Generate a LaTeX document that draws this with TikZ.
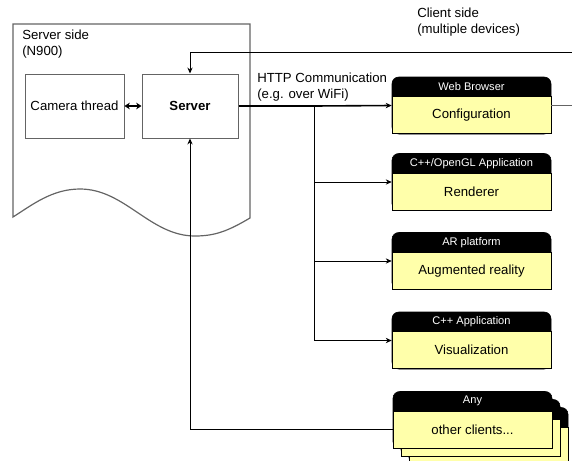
\documentclass[tikz,border=0pt]{standalone}
\usepackage{fontspec}
\setmainfont{Liberation Sans}
\usepackage{tikz}
\usetikzlibrary{arrows.meta,positioning}

\definecolor{clientyellow}{RGB}{255,255,170}
\definecolor{framegray}{RGB}{100,100,100}

% one client: black rounded frame, yellow body, white header text
\newcommand{\clientbox}[4]{%
    \node (#1) [box] at (#2) {};
    \node (#1-b) [body, anchor=south] at (#1.south) {#4};
    \node (#1-h) [hdr] at ([yshift=-7.5pt]#1.north) {#3};
}

\begin{document}
\begin{tikzpicture}[
        x = 0.75pt,
        y = -0.75pt,
        every node/.style = {font=\fontsize{9.9}{12}\selectfont},
        srvbox/.style = {draw=framegray, fill=white, line width=0.75pt,
            minimum height=48pt, inner sep=0pt},
        box/.style = {draw=black, fill=black, rounded corners=5pt,
            minimum width=119.25pt, minimum height=42.75pt, inner sep=0pt},
        body/.style = {draw=black, fill=clientyellow, line width=0.75pt,
            minimum width=119.25pt, minimum height=27.75pt, inner sep=0pt},
        hdr/.style = {text=white, inner sep=0pt, font=\fontsize{8.3}{9}\selectfont},
        link/.style = {line width=0.75pt, -{Stealth[length=4.5pt, width=4pt]}}
        ]
        \useasboundingbox (0, 0) rectangle (572, 461);

        % server side (document shape)
        \draw[framegray, line width=0.9pt] (13, 24) -- (250, 24) -- (250, 218)
            .. controls (228, 231) and (215, 236) .. (195, 236)
            .. controls (150, 236) and (125, 189) .. (80, 189)
            .. controls (52, 189) and (32, 205) .. (13, 217) -- cycle;
        \node[anchor=north west, align=left, inner sep=0pt] (srvside) at (22, 30)
            {Server side\\(N900)};

        \node (camera) [srvbox, minimum width=74.25pt] at (74.5, 106) {Camera thread};
        \node (server) [srvbox, minimum width=72pt] at (190, 106) {\textbf{Server}};
        \draw[{Stealth[length=4pt, width=5pt]}-{Stealth[length=4pt, width=5pt]},
            line width=1.2pt] (camera) -- (server);

        % client side
        \node[anchor=north west, align=left, inner sep=0pt] (cliside) at (417, 8)
            {Client side\\(multiple devices)};
        \node[anchor=north west, align=left, inner sep=0pt] (http) at (257, 73)
            {HTTP Communication\\(e.g. over WiFi)};

        \clientbox{conf}{471.5, 105.5}{Web Browser}{Configuration}
        \clientbox{rend}{471.5, 182}{C++/OpenGL Application}{Renderer}
        \clientbox{ar}{471.5, 261}{AR platform}{Augmented reality}
        \clientbox{vis}{471.5, 340.5}{C++ Application}{Visualization}
        \clientbox{other3}{488.5, 436}{}{}
        \clientbox{other2}{480.5, 428}{}{}
        \clientbox{other}{472.5, 420}{Any}{other clients...}

        % connections
        \coordinate (split) at (314, 106);
        \coordinate (loopin) at (572, 52);
        \coordinate (loopout) at (572, 105.5);
        \draw[line width=1.5pt] (server.east) -- (split);
        \draw[link, line width=1.2pt] (split) -- (conf.west);
        \draw[link] (split) |- (vis.west);
        \draw[link] (split |- rend.west) -- (rend.west);
        \draw[link] (split |- ar.west) -- (ar.west);
        \draw[line width=0.75pt, framegray] (conf.east) -- (loopout);
        \draw[link] (loopin) -| (server.north);
        \draw[link] (other-b.west) -| (server.south);
    \end{tikzpicture}
\end{document}
